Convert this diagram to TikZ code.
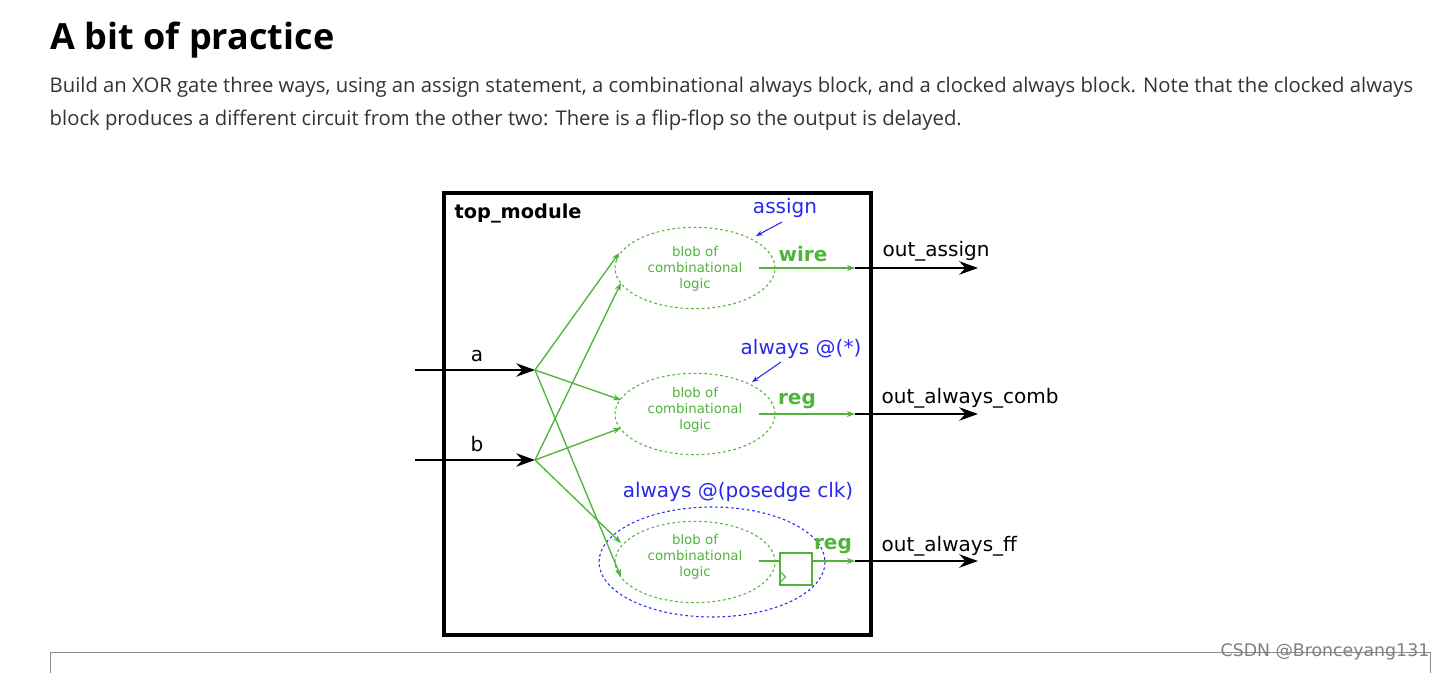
\documentclass[tikz,border=0pt]{standalone}
\usepackage{fontspec}
\setmainfont{Open Sans}
\newfontfamily\djf{DejaVu Sans}
\usetikzlibrary{arrows.meta,shapes.geometric}
\definecolor{gr}{RGB}{80,180,60}
\definecolor{bl}{RGB}{40,40,240}
\begin{document}
\begin{tikzpicture}[x=0.75pt,y=-0.75pt,
  blob/.style={draw=gr,dashed,dash pattern=on 2pt off 2pt,thick,ellipse,minimum width=120pt,minimum height=61pt,inner sep=0pt},
  gline/.style={draw=gr,line width=1pt,-{Stealth[length=6pt]}},
  bline/.style={draw=black,line width=2pt,-{Stealth[length=14pt,width=10pt]}},
  blabel/.style={text=bl,font=\djf\fontsize{15}{17}\selectfont},
  bt/.style={text=gr,font=\djf\fontsize{10}{12}\selectfont,align=center}]
\useasboundingbox (0,0) rectangle (1445,673);
\fill[white] (0,0) rectangle (1445,673);
\node[anchor=west,font=\bfseries\fontsize{27}{30}\selectfont] (title) at (46,40) {A bit of practice};
\node[anchor=west,font=\fontsize{15.2}{17}\selectfont,text=black!80] (p1) at (45,87) {Build an XOR gate three ways, using an assign statement, a combinational always block, and a clocked always block. Note that the clocked always};
\node[anchor=west,font=\fontsize{15.2}{17}\selectfont,text=black!80] (p2) at (45,120) {block produces a different circuit from the other two: There is a flip-flop so the output is delayed.};
% module box
\draw[line width=3.2pt] (444,193) rectangle (871,635);
\node[anchor=west,font=\djf\bfseries\fontsize{14.5}{16}\selectfont] (tm) at (450,213) {top\_module};
% ellipses
\draw[draw=bl,dashed,dash pattern=on 2pt off 2pt,thick] (712,562) ellipse (113 and 55);
\node[blob] (e1) at (695,268) {};
\node[blob] (e2) at (695,414) {};
\node[blob] (e3) at (695,562) {};
\node[bt] at (695,269) {blob of\\combinational\\logic};
\node[bt] at (695,410) {blob of\\combinational\\logic};
\node[bt] at (695,557) {blob of\\combinational\\logic};
% inputs
\coordinate (ai) at (415,370); \coordinate (a) at (535,370);
\coordinate (bi) at (415,460); \coordinate (b) at (535,460);
\draw[bline] (ai) -- (a);
\draw[bline] (bi) -- (b);
\node[font=\djf\fontsize{15}{17}\selectfont] at (477,356) {a};
\node[font=\djf\fontsize{15}{17}\selectfont] at (477,444) {b};
\coordinate (t1) at (619,253); \coordinate (t2) at (621,400); \coordinate (t3) at (621,577);
\coordinate (u1) at (621,283); \coordinate (u2) at (621,428); \coordinate (u3) at (621,543);
\draw[gline] (a) -- (t1); \draw[gline] (a) -- (t2); \draw[gline] (a) -- (t3);
\draw[gline] (b) -- (u1); \draw[gline] (b) -- (u2); \draw[gline] (b) -- (u3);
% outputs
\coordinate (o1s) at (759,268); \coordinate (o1) at (855,268); \coordinate (o1e) at (978,268);
\coordinate (o2s) at (759,414); \coordinate (o2) at (855,414); \coordinate (o2e) at (978,414);
\coordinate (o3s) at (759,561); \coordinate (o3) at (855,561); \coordinate (o3e) at (978,561);
\draw[gline] (o1s) -- (o1); \draw[bline] (o1) -- (o1e);
\draw[gline] (o2s) -- (o2); \draw[bline] (o2) -- (o2e);
\node[draw=gr,thick,minimum width=24pt,minimum height=24pt,inner sep=0pt] (ff) at (796,569) {};
\draw[gr,line width=1pt] (o3s) -- (ff.west|-o3s);
\draw[gline] (ff.east|-o3s) -- (o3); \draw[bline] (o3) -- (o3e);
\draw[gr,thick] ([yshift=2pt]ff.south west) -- ++(6,-6) -- ++(-6,-6);
\node[text=gr,font=\djf\bfseries\fontsize{15}{17}\selectfont] at (803,254) {wire};
\node[text=gr,font=\djf\bfseries\fontsize{15}{17}\selectfont] at (797,401) {reg};
\node[text=gr,font=\djf\bfseries\fontsize{15}{17}\selectfont] at (833,546) {reg};
\node[anchor=west,font=\djf\fontsize{15}{17}\selectfont] at (878,251) {out\_assign};
\node[anchor=west,font=\djf\fontsize{15}{17}\selectfont] at (877,398) {out\_always\_comb};
\node[anchor=west,font=\djf\fontsize{15}{17}\selectfont] at (877,546) {out\_always\_ff};
\node[blabel] (la) at (785,208) {assign};
\node[blabel] (lb) at (801,349) {always @(*)};
\node[blabel] (lc) at (738,492) {always @(posedge clk)};
\draw[bl,thick,-{Stealth[length=5pt]}] (782,222) -- (756,236);
\draw[bl,thick,-{Stealth[length=5pt]}] (781,362) -- (752,382);
% bottom box
\draw[black!45] (50,673) -- (50,652) -- (1430,652) -- (1430,673);
\node[anchor=east,text=black!50,font=\djf\fontsize{13}{14}\selectfont] at (1434,652) {CSDN @Bronceyang131};
\end{tikzpicture}
\end{document}
